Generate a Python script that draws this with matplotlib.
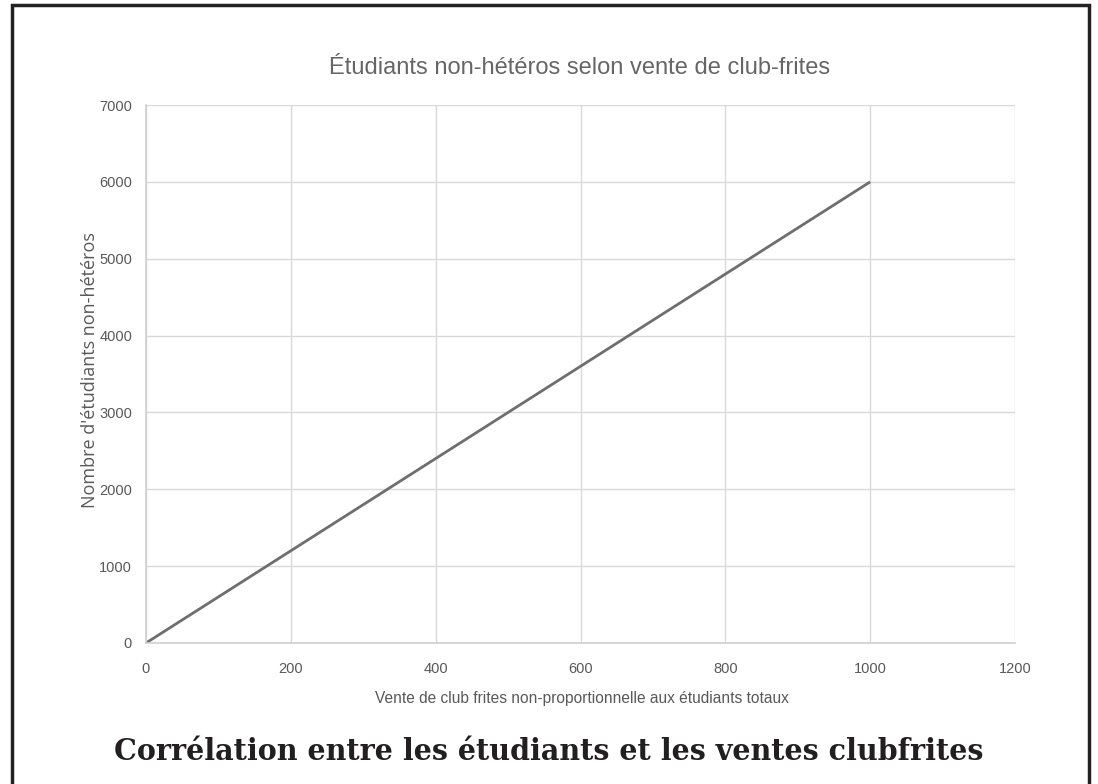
import matplotlib

matplotlib.use("Agg")
from matplotlib import pyplot as plt
from matplotlib.patches import Rectangle

# data
ventes = [0, 1000]
etudiants = [0, 6000]
x_ticks = [0, 200, 400, 600, 800, 1000, 1200]
y_ticks = [0, 1000, 2000, 3000, 4000, 5000, 6000, 7000]

title = "Étudiants non-hétéros selon vente de club-frites"
x_label = "Vente de club frites non-proportionnelle aux étudiants totaux"
y_label = "Nombre d'étudiants non-hétéros"
caption = "Corrélation entre les étudiants et les ventes clubfrites"

sans = ["Liberation Sans", "DejaVu Sans"]
text_grey = "#595959"

W, H = 1098, 784
fig = plt.figure(figsize=(W / 100, H / 100), dpi=100)
ax = fig.add_axes([146 / W, 1 - 643 / H, (1015 - 146) / W, (643 - 105) / H])

ax.plot(ventes, etudiants, color="#6e6e6e", linewidth=2.0, solid_capstyle="butt")

ax.set_xlim(0, 1200)
ax.set_ylim(0, 7000)
ax.set_xticks(x_ticks)
ax.set_yticks(y_ticks)
ax.grid(True, color="#d9d9d9", linewidth=1.0)
ax.set_axisbelow(True)
for side in ["top", "right"]:
    ax.spines[side].set_visible(False)
for side in ["left", "bottom"]:
    ax.spines[side].set_color("#d0d0d0")
    ax.spines[side].set_linewidth(1.2)
ax.tick_params(length=0, colors=text_grey)
ax.tick_params(axis="y", pad=10)
ax.tick_params(axis="x", pad=14)
for lab in ax.get_xticklabels() + ax.get_yticklabels():
    lab.set_family(sans)
    lab.set_fontsize(10.5)

fig.text(580 / W, 1 - 68 / H, title, ha="center", va="center",
         fontsize=17, color="#666666", family=sans)
fig.text(582 / W, 1 - 699 / H, x_label, ha="center", va="center",
         fontsize=11.2, color=text_grey, family=sans)
fig.text(90 / W, 1 - 370 / H, y_label, ha="center", va="center",
         rotation=90, fontsize=13, color=text_grey, family=["Open Sans", "DejaVu Sans"])
fig.text(549 / W, 1 - 752 / H, caption, ha="center", va="center",
         fontsize=20.6, fontweight="bold", color="#231f20",
         family=["DejaVu Serif"])

# black frame around the picture (open at the bottom)
fig.patches.append(Rectangle((12 / W, -0.02), (1089 - 12) / W, 1.02 - 5 / H,
                             transform=fig.transFigure, fill=False,
                             edgecolor="#222222", linewidth=2.5))

fig.savefig("out.png", dpi=100)
